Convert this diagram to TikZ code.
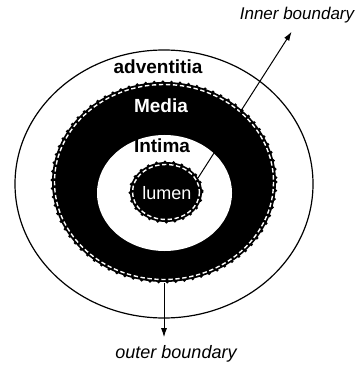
\documentclass[tikz,border=0pt]{standalone}
\usepackage{fontspec}
\setmainfont{Liberation Sans}
\usetikzlibrary{arrows.meta}
\tikzset{wall/.style={line width=0.6pt}}
\tikzset{bumps/.style={draw=black, line width=1.7pt, line cap=round, dash pattern=on 0pt off 4.3pt}}
\tikzset{seam/.style={draw=white, line width=0.7pt, dash pattern=on 2.2pt off 1.3pt}}
\tikzset{ptr/.style={-{Latex[length=4.5pt,width=3pt]}, line width=0.5pt}}
\tikzset{tag/.style={font=\fontsize{9.5}{11}\selectfont\bfseries, inner sep=0pt}}
\tikzset{note/.style={font=\fontsize{8.5}{10}\selectfont\itshape, inner sep=0pt}}

\begin{document}
\begin{tikzpicture}[x=0.5pt,y=-0.5pt]
\useasboundingbox (0,0) rectangle (357,367);
% adventitia
\draw[wall] (164,184) ellipse [x radius=149, y radius=134];
% media
\fill (164,182) ellipse [x radius=112, y radius=100];
\draw[bumps] (164,182) ellipse [x radius=112, y radius=100];
\draw[seam] (164,182) ellipse [x radius=109.5, y radius=97.5];
% intima
\fill[white] (164.5,193) ellipse [x radius=67.5, y radius=58];
% lumen
\fill (166,192) ellipse [x radius=36, y radius=30];
\draw[bumps] (166,192) ellipse [x radius=36, y radius=30];
\draw[seam] (166,192) ellipse [x radius=33.5, y radius=27.5];
\node[tag] (adv) at (158,67) {adventitia};
\node[tag, text=white] (med) at (161,106) {Media};
\node[tag] (int) at (162,146) {Intima};
\node[tag, font=\fontsize{9}{11}\selectfont, text=white] (lum) at (167,193) {lumen};
\node[note] (inner) at (297,15) {Inner boundary};
\node[note, font=\fontsize{9}{11}\selectfont\itshape] (outer) at (176,354) {outer boundary};
\coordinate (lumedge) at (198,178);
\coordinate (medbot) at (164,283);
\draw[ptr, shorten >=5pt] (lumedge) -- (inner.south);
\draw[ptr, shorten >=4pt] (medbot) -- (medbot |- outer.north);
\end{tikzpicture}
\end{document}
